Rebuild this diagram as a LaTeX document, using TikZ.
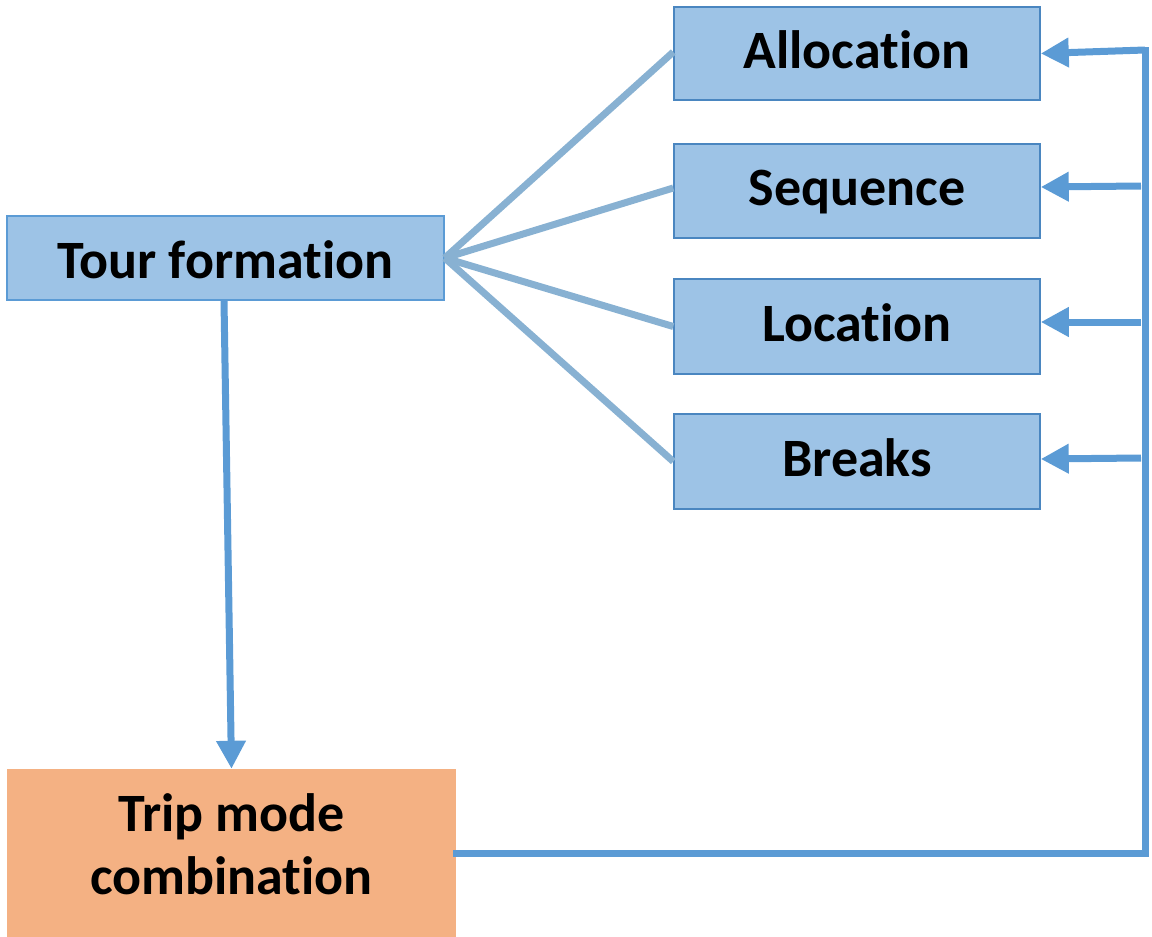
\documentclass[tikz,border=0pt]{standalone}
\usepackage{fontspec}
\setmainfont{Carlito}[Ligatures=CommonOff]
\usetikzlibrary{arrows.meta}
\definecolor{boxfill}{HTML}{9DC3E6}
\definecolor{boxedge}{HTML}{4A86C0}
\definecolor{tripfill}{HTML}{F4B183}
\definecolor{spoke}{HTML}{88B1D2}
\definecolor{flow}{HTML}{5B9BD5}
\tikzset{
  stagefont/.style={font=\fontsize{54}{63}\selectfont\bfseries, text=black},
  stage/.style={draw=boxedge, line width=1.5pt, fill=boxfill, inner sep=0pt,
    stagefont, text height=42pt, text depth=13pt},
  spokeline/.style={draw=spoke, line width=7pt},
  flowline/.style={draw=flow, line width=7pt},
  flowarrow/.style={flowline, -{Triangle[length=28pt,width=28pt]}},
}
\begin{document}
\begin{tikzpicture}[x=1pt,y=-1pt]
\useasboundingbox (0,0) rectangle (1152,937);

% stage boxes
\node[stage, draw=flow, text height=54pt, minimum width=437pt, minimum height=84pt] (tour) at (225.5,258) {Tour formation};
\node[stage, minimum width=366pt, minimum height=93pt] (alloc) at (857,53.5) {Allocation};
\node[stage, minimum width=366pt, minimum height=94pt] (seq) at (857,191) {Sequence};
\node[stage, minimum width=366pt, minimum height=95pt] (loc) at (857,326.5) {Location};
\node[stage, minimum width=366pt, minimum height=95pt] (brk) at (857,461.5) {Breaks};
\node[fill=tripfill, inner sep=0pt, minimum width=449pt, minimum height=168pt]
  (trip) at (231.5,853) {};
\node[stagefont, align=center, inner sep=0pt] (triptext) at ([yshift=9pt]trip.center)
  {Trip mode\\combination};

% spokes from tour formation to its components
\draw[spokeline] (tour.east) -- ([yshift=1.5pt]alloc.west);
\draw[spokeline] (tour.east) -- ([yshift=3pt]seq.west);
\draw[spokeline] (tour.east) -- (loc.west);
\draw[spokeline] (tour.east) -- (brk.west);

% tour formation feeds trip mode combination
\draw[flowarrow] ([xshift=-1.5pt]tour.south) -- (trip.north);

% feedback loop to every component
\coordinate (fbtop) at (1145,50);
\coordinate (fbseq) at (1141,186);
\coordinate (fbloc) at (1141,322);
\coordinate (fbbrk) at (1141,458);
\draw[flowline, line cap=rect] (trip.east) -| (fbtop);
\draw[flowarrow] (fbtop) -- (alloc.east);
\draw[flowarrow] (fbseq) -- ([yshift=4pt]seq.east);
\draw[flowarrow] (fbloc) -- ([yshift=4.5pt]loc.east);
\draw[flowarrow] (fbbrk) -- ([yshift=2.5pt]brk.east);
\end{tikzpicture}
\end{document}
